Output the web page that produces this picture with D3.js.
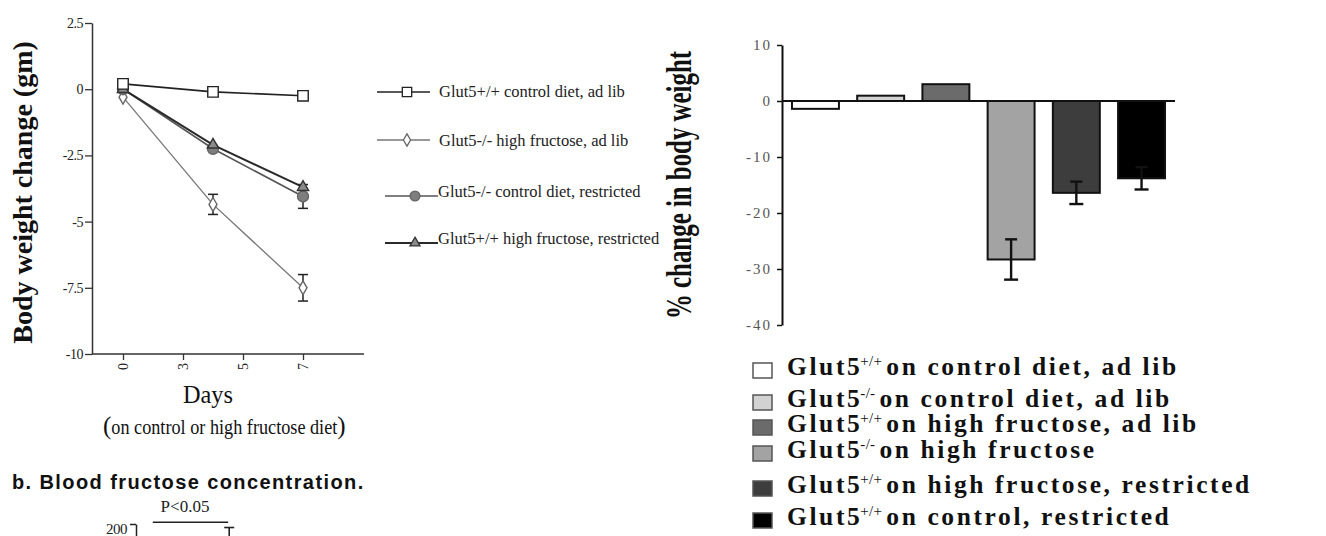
<!DOCTYPE html>
<html>
<head>
<meta charset="utf-8">
<script src="https://cdn.jsdelivr.net/npm/d3@7"></script>
<style>
  html, body { margin: 0; padding: 0; background: #fff; }
  svg { display: block; }
</style>
</head>
<body>
<div id="chart"></div>
<script>
// ---------- panel a (left): body weight change, gm ----------
var days = [0, 4, 7];
var dayTicks = [0, 3, 5, 7];
var weightTicks = [2.5, 0, -2.5, -5, -7.5, -10];
var lineNames = [
    "Glut5+/+ control diet, ad lib",
    "Glut5-/- high fructose, ad lib",
    "Glut5-/- control diet, restricted",
    "Glut5+/+ high fructose, restricted"
];
var wtCtrlAdLib = [0.2, -0.1, -0.25];
var koFructAdLib = [-0.3, -4.35, -7.5];
var koCtrlRestr = [0, -2.25, -4.05];
var wtFructRestr = [0, -2.1, -3.7];
var koFructAdLibErr = [0, 0.38, 0.5];
var koCtrlRestrErr = [0, 0, 0.45];

// ---------- panel a (right): % change in body weight ----------
var groupSup = ["+/+", "-/-", "+/+", "-/-", "+/+", "+/+"];
var groupText = [
    "on control diet, ad lib",
    "on control diet, ad lib",
    "on high fructose, ad lib",
    "on high fructose",
    "on high fructose, restricted",
    "on control, restricted"
];
var pctChange = [-1.4, 0.95, 3.0, -28.3, -16.4, -13.8];
var pctErr = [0, 0, 0, 3.6, 2.0, 2.0];
var pctTicks = [10, 0, -10, -20, -30, -40];

// ---------- panel b: blood fructose (cut off at the bottom) ----------
var bloodGroups = ["Glut5+/+", "Glut5-/-"];
var bloodFructose = [120, 180];
var bloodErr = [10, 16];
var bloodTicks = [200];

var attrs = {
    svgWidth: 1326,
    svgHeight: 536,
    serif: "'Liberation Serif', 'Times New Roman', serif",
    sans: "'Liberation Sans', Arial, sans-serif",
    barFills: ["#ffffff", "#d2d2d2", "#6b6b6b", "#a3a3a3", "#3d3d3d", "#000000"]
};

var svg = d3.select("#chart").append("svg")
    .attr("width", attrs.svgWidth)
    .attr("height", attrs.svgHeight)
    .attr("font-family", attrs.serif);

/*################################## LINE CHART ####################################### */
var lc = { left: 92, right: 364, top: 23, bottom: 354 };

var x = d3.scaleLinear()
    .domain(dayTicks)
    .range([123, 183, 243, 303]);   // ticks are evenly spaced on the original

var y = d3.scaleLinear()
    .domain([-10, 2.5])
    .range([lc.bottom, lc.top]);

var yAxisL = d3.axisLeft(y)
    .tickValues(weightTicks)
    .tickFormat(d => String(d))
    .tickSize(7)
    .tickSizeOuter(0)
    .tickPadding(2);

var gy = svg.append("g")
    .attr("transform", "translate(" + lc.left + ",0)")
    .call(yAxisL)
    .attr("font-family", attrs.serif);
gy.select(".domain").attr("stroke", "#333").attr("stroke-width", 1.5);
gy.selectAll(".tick line").attr("stroke", "#333").attr("stroke-width", 1.3);
gy.selectAll(".tick text").attr("font-size", 14).attr("fill", "#222").attr("letter-spacing", -0.5);

var xAxisL = d3.axisBottom(x)
    .tickValues(dayTicks)
    .tickFormat(d => String(d))
    .tickSize(6)
    .tickSizeOuter(0);

var gx = svg.append("g")
    .attr("transform", "translate(0," + lc.bottom + ")")
    .call(xAxisL)
    .attr("font-family", attrs.serif);
gx.select(".domain")
    .attr("d", "M" + lc.left + ",0H" + lc.right)
    .attr("stroke", "#333").attr("stroke-width", 1.5);
gx.selectAll(".tick line").attr("stroke", "#333").attr("stroke-width", 1.3);
gx.selectAll(".tick text")
    .attr("font-size", 14).attr("fill", "#222")
    .attr("text-anchor", "end")
    .attr("y", 0).attr("dy", "0.35em")
    .attr("transform", "translate(0,9) rotate(-90)");

svg.append("text")
    .attr("transform", "translate(32," + ((lc.top + lc.bottom) / 2 + 4) + ") rotate(-90)")
    .attr("text-anchor", "middle")
    .attr("font-size", 28).attr("font-weight", "bold").attr("fill", "#111")
    .text("Body weight change (gm)");

svg.append("text")
    .attr("x", 208).attr("y", 403)
    .attr("text-anchor", "middle")
    .attr("font-size", 26).attr("fill", "#111")
    .attr("textLength", 50).attr("lengthAdjust", "spacingAndGlyphs")
    .text("Days");

var sub = svg.append("text")
    .attr("x", 103).attr("y", 434)
    .attr("font-size", 20).attr("fill", "#111");
sub.append("tspan").attr("font-size", 25).text("(");
sub.append("tspan").attr("textLength", 226).attr("lengthAdjust", "spacingAndGlyphs")
    .text("on control or high fructose diet");
sub.append("tspan").attr("font-size", 25).text(")");

// series
var seriesList = [
    { name: lineNames[1], values: koFructAdLib, err: koFructAdLibErr, stroke: "#777", width: 1.3,
      symbol: d3.symbolDiamond, size: 55, fill: "#fff", mstroke: "#666" },
    { name: lineNames[2], values: koCtrlRestr, err: koCtrlRestrErr, stroke: "#555", width: 1.6,
      symbol: d3.symbolCircle, size: 95, fill: "#7e7e7e", mstroke: "#666" },
    { name: lineNames[3], values: wtFructRestr, err: null, stroke: "#2a2a2a", width: 2,
      symbol: d3.symbolTriangle, size: 55, fill: "#8a8a8a", mstroke: "#333" },
    { name: lineNames[0], values: wtCtrlAdLib, err: null, stroke: "#222", width: 1.6,
      symbol: d3.symbolSquare, size: 110, fill: "#fff", mstroke: "#222" }
];

var line = d3.line()
    .x(d => x(d.day))
    .y(d => y(d.v));

seriesList.forEach(function (s) {
    var pts = days.map((d, i) => ({ day: d, v: s.values[i], e: s.err ? s.err[i] : 0 }));
    svg.append("path")
        .datum(pts)
        .attr("d", line)
        .attr("fill", "none")
        .attr("stroke", s.stroke)
        .attr("stroke-width", s.width);
    s.pts = pts;
});

// error bars then markers
seriesList.forEach(function (s) {
    var eb = svg.append("g").attr("stroke", "#222").attr("stroke-width", 1.5);
    s.pts.filter(p => p.e > 0).forEach(function (p) {
        var cx = x(p.day);
        eb.append("line").attr("x1", cx).attr("x2", cx).attr("y1", y(p.v + p.e)).attr("y2", y(p.v - p.e));
        eb.append("line").attr("x1", cx - 5).attr("x2", cx + 5).attr("y1", y(p.v + p.e)).attr("y2", y(p.v + p.e));
        eb.append("line").attr("x1", cx - 5).attr("x2", cx + 5).attr("y1", y(p.v - p.e)).attr("y2", y(p.v - p.e));
    });
});
seriesList.forEach(function (s) {
    svg.append("g").selectAll("path")
        .data(s.pts)
        .join("path")
        .attr("transform", d => "translate(" + x(d.day) + "," + y(d.v) + ")")
        .attr("d", d3.symbol().type(s.symbol).size(s.size))
        .attr("fill", s.fill)
        .attr("stroke", s.mstroke)
        .attr("stroke-width", 1.4);
});

// line legend
var legendRows = [
    { s: seriesList[3], ly: 92, ty: 97, x1: 377, x2: 430, mx: 407, tx: 439 },
    { s: seriesList[0], ly: 140, ty: 146, x1: 377, x2: 430, mx: 407, tx: 439 },
    { s: seriesList[1], ly: 196, ty: 197, x1: 385, x2: 438, mx: 415, tx: 438 },
    { s: seriesList[2], ly: 243, ty: 244, x1: 385, x2: 438, mx: 415, tx: 438 }
];
var lg = svg.append("g");
legendRows.forEach(function (r) {
    lg.append("line")
        .attr("x1", r.x1).attr("x2", r.x2).attr("y1", r.ly).attr("y2", r.ly)
        .attr("stroke", r.s.stroke).attr("stroke-width", r.s.width);
    lg.append("path")
        .attr("transform", "translate(" + r.mx + "," + r.ly + ")")
        .attr("d", d3.symbol().type(r.s.symbol).size(r.s.size * 0.8))
        .attr("fill", r.s.fill).attr("stroke", r.s.mstroke).attr("stroke-width", 1.3);
    lg.append("text")
        .attr("x", r.tx).attr("y", r.ty)
        .attr("font-size", 16.5).attr("fill", "#222")
        .text(r.s.name);
});

/*################################## BAR CHART ####################################### */
var bc = { left: 782, right: 1175, top: 45, bottom: 325 };

var xb = d3.scaleBand()
    .domain(d3.range(pctChange.length))
    .range([bc.left, bc.right])
    .paddingInner(0.28)
    .paddingOuter(0.153);

var yb = d3.scaleLinear()
    .domain([-40, 10])
    .range([bc.bottom, bc.top]);

var yAxisR = d3.axisLeft(yb)
    .tickValues(pctTicks)
    .tickFormat(d => String(d))
    .tickSize(5)
    .tickSizeOuter(0)
    .tickPadding(5);

var gyb = svg.append("g")
    .attr("transform", "translate(" + bc.left + ",0)")
    .call(yAxisR)
    .attr("font-family", attrs.serif);
gyb.select(".domain").attr("stroke", "#111").attr("stroke-width", 2);
gyb.selectAll(".tick line").attr("stroke", "#111").attr("stroke-width", 1.5);
gyb.selectAll(".tick text").attr("font-size", 15).attr("fill", "#555").attr("letter-spacing", 2);

svg.append("text")
    .attr("transform", "translate(691," + ((bc.top + bc.bottom) / 2) + ") rotate(-90)")
    .attr("text-anchor", "middle")
    .attr("font-size", 36).attr("font-weight", "bold").attr("fill", "#111")
    .attr("textLength", 268).attr("lengthAdjust", "spacingAndGlyphs")
    .text("% change in body weight");

svg.append("g").selectAll("rect")
    .data(pctChange)
    .join("rect")
    .attr("x", (d, i) => xb(i))
    .attr("width", xb.bandwidth())
    .attr("y", d => yb(Math.max(0, d)))
    .attr("height", d => Math.abs(yb(d) - yb(0)))
    .attr("fill", (d, i) => attrs.barFills[i])
    .attr("stroke", "#111")
    .attr("stroke-width", 2);

// zero line drawn over the bar tops
svg.append("line")
    .attr("x1", bc.left).attr("x2", bc.right)
    .attr("y1", yb(0)).attr("y2", yb(0))
    .attr("stroke", "#111").attr("stroke-width", 2);

var ebr = svg.append("g").attr("stroke", "#111").attr("stroke-width", 2.4);
pctChange.forEach(function (v, i) {
    if (!pctErr[i]) return;
    var cx = xb(i) + xb.bandwidth() / 2;
    ebr.append("line").attr("x1", cx).attr("x2", cx).attr("y1", yb(v + pctErr[i])).attr("y2", yb(v - pctErr[i]));
    ebr.append("line").attr("x1", cx - 6).attr("x2", cx + 6).attr("y1", yb(v + pctErr[i])).attr("y2", yb(v + pctErr[i]));
    ebr.append("line").attr("x1", cx - 7).attr("x2", cx + 7).attr("y1", yb(v - pctErr[i])).attr("y2", yb(v - pctErr[i]));
});

// bar legend
var legendY = [375, 407, 432, 458, 493, 525];
var bl = svg.append("g");
groupText.forEach(function (t, i) {
    bl.append("rect")
        .attr("x", 753).attr("y", legendY[i] - 12)
        .attr("width", 19).attr("height", 15)
        .attr("fill", attrs.barFills[i])
        .attr("stroke", "#555").attr("stroke-width", 1.5);
    var tx = bl.append("text")
        .attr("x", 787).attr("y", legendY[i])
        .attr("font-size", 25.5).attr("font-weight", "bold").attr("fill", "#111")
        .attr("letter-spacing", 2.6);
    tx.append("tspan").text("Glut5");
    tx.append("tspan").attr("font-size", 15).attr("font-weight", "normal").attr("letter-spacing", 0.3)
        .attr("dx", -2).attr("dy", -9).text(groupSup[i]);
    tx.append("tspan").attr("dy", 9).attr("dx", 4).text(t);
});

/*################################## PANEL B (cut) ####################################### */
svg.append("text")
    .attr("x", 12).attr("y", 489)
    .attr("font-family", attrs.sans)
    .attr("font-size", 20).attr("font-weight", "bold").attr("fill", "#111")
    .attr("letter-spacing", 1.4)
    .text("b. Blood fructose concentration.");

var yBlood = d3.scaleLinear().domain([0, 200]).range([700, 524]);
var xBlood = d3.scaleBand().domain(bloodGroups).range([130, 260]).paddingInner(0.3).paddingOuter(0.1);

var gBlood = svg.append("g")
    .attr("transform", "translate(136,0)")
    .call(d3.axisLeft(yBlood).tickValues(bloodTicks).tickSize(6).tickSizeOuter(0).tickPadding(3))
    .attr("font-family", attrs.serif);
gBlood.select(".domain").attr("stroke", "#222").attr("stroke-width", 1.5);
gBlood.selectAll(".tick line").attr("stroke", "#222").attr("stroke-width", 1.5);
gBlood.selectAll(".tick text").attr("font-size", 15).attr("fill", "#222").attr("letter-spacing", -0.5)
    .attr("dy", "0.6em");

var bx1 = xBlood(bloodGroups[0]) + xBlood.bandwidth() / 2;
var bx2 = xBlood(bloodGroups[1]) + xBlood.bandwidth() / 2;
svg.append("line")
    .attr("x1", bx1 - 8).attr("x2", bx2 - 1)
    .attr("y1", yBlood(202)).attr("y2", yBlood(202))
    .attr("stroke", "#222").attr("stroke-width", 1.5);
svg.append("text")
    .attr("x", (bx1 + bx2) / 2 - 10).attr("y", 512)
    .attr("text-anchor", "middle")
    .attr("font-size", 17).attr("fill", "#222")
    .text("P<0.05");

var ebb = svg.append("g").attr("stroke", "#222").attr("stroke-width", 1.6);
bloodFructose.forEach(function (v, i) {
    var cx = xBlood(bloodGroups[i]) + xBlood.bandwidth() / 2;
    ebb.append("line").attr("x1", cx).attr("x2", cx).attr("y1", yBlood(v + bloodErr[i])).attr("y2", yBlood(v));
    ebb.append("line").attr("x1", cx - 5).attr("x2", cx + 5).attr("y1", yBlood(v + bloodErr[i])).attr("y2", yBlood(v + bloodErr[i]));
});
</script>
</body>
</html>
